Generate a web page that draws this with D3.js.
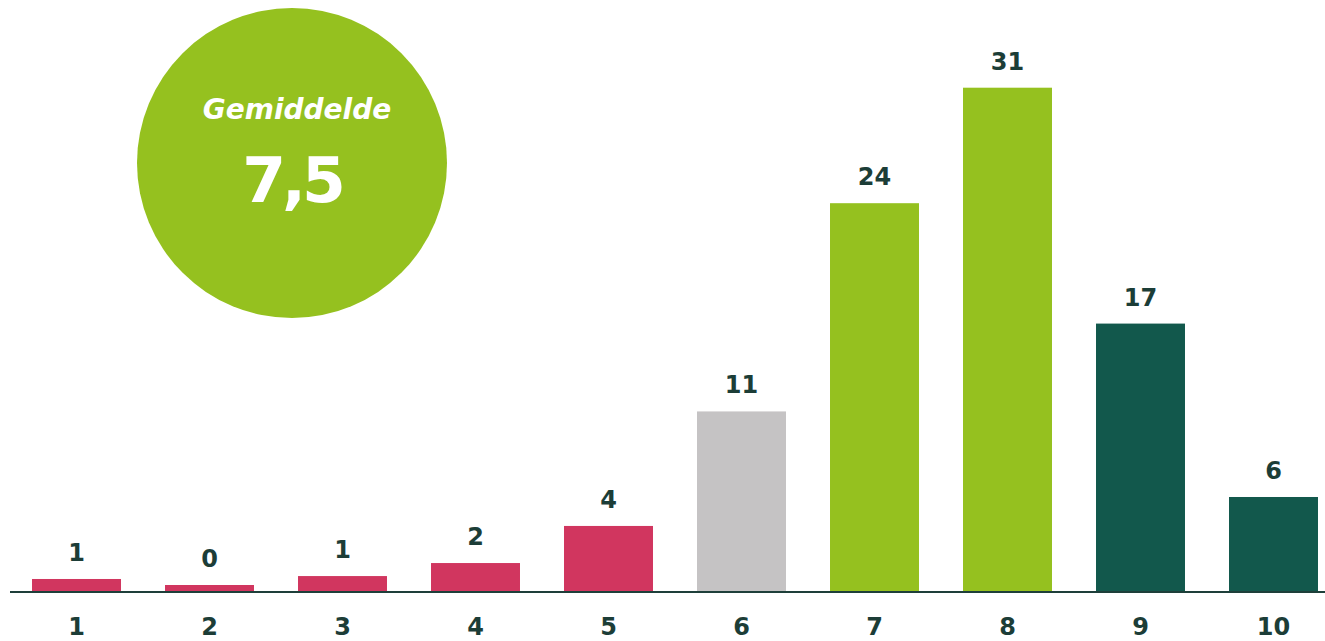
<!DOCTYPE html>
<html>
<head>
<meta charset="utf-8">
<script src="https://cdn.jsdelivr.net/npm/d3@7"></script>
<style>
  html, body { margin: 0; padding: 0; background: #ffffff; }
  svg { display: block; }
</style>
</head>
<body>
<svg id="chart" width="1325" height="641"></svg>
<script>
// Data
const categories = ["1", "2", "3", "4", "5", "6", "7", "8", "9", "10"];
const values = [0.8, 0.43, 0.98, 1.78, 4.06, 11.1, 23.9, 31.0, 16.5, 5.84];
const valueLabels = ["1", "0", "1", "2", "4", "11", "24", "31", "17", "6"];
const barColors = ["#d1365f", "#d1365f", "#d1365f", "#d1365f", "#d1365f",
                   "#c5c3c4", "#95c11f", "#95c11f", "#12584c", "#12584c"];
const averageTitle = "Gemiddelde";
const averageValue = "7,5";

const svg = d3.select("#chart");
const textColor = "#1c3d37";
const font = "'DejaVu Sans', sans-serif";

const baseY = 592;
const x = d3.scaleBand()
  .domain(categories)
  .range([10, 1340])
  .paddingInner(0.331)
  .paddingOuter(0.1655);

const y = d3.scaleLinear()
  .domain([0, 31])
  .range([baseY, 87.7]);

// Bars
svg.append("g")
  .selectAll("rect")
  .data(values)
  .join("rect")
  .attr("x", (d, i) => x(categories[i]))
  .attr("y", d => y(d))
  .attr("width", x.bandwidth())
  .attr("height", d => baseY - y(d))
  .attr("fill", (d, i) => barColors[i]);

// Value labels
svg.append("g")
  .selectAll("text")
  .data(values)
  .join("text")
  .attr("x", (d, i) => x(categories[i]) + x.bandwidth() / 2)
  .attr("y", d => y(d) - 18)
  .attr("text-anchor", "middle")
  .attr("font-family", font)
  .attr("font-weight", 700)
  .attr("font-size", 24)
  .attr("fill", textColor)
  .text((d, i) => valueLabels[i]);

// X axis
const axis = svg.append("g")
  .attr("transform", `translate(0,${baseY})`)
  .call(d3.axisBottom(x).tickSize(0));
axis.select(".domain")
  .attr("d", "M10,0H1325")
  .attr("stroke", "#1e3f3a")
  .attr("stroke-width", 2.2);
axis.selectAll(".tick text")
  .attr("font-family", font)
  .attr("font-weight", 700)
  .attr("font-size", 24)
  .attr("fill", textColor)
  .attr("dy", null)
  .attr("y", 43);

// Average circle
const circle = svg.append("g");
circle.append("circle")
  .attr("cx", 292)
  .attr("cy", 163)
  .attr("r", 155)
  .attr("fill", "#95c11f");
circle.append("text")
  .attr("x", 297)
  .attr("y", 119)
  .attr("text-anchor", "middle")
  .attr("font-family", font)
  .attr("font-weight", 700)
  .attr("font-style", "italic")
  .attr("font-size", 28)
  .attr("fill", "#ffffff")
  .text(averageTitle);
circle.append("text")
  .attr("x", 292)
  .attr("y", 202)
  .attr("text-anchor", "middle")
  .attr("font-family", font)
  .attr("font-weight", 700)
  .attr("font-size", 63)
  .attr("letter-spacing", -4)
  .attr("fill", "#ffffff")
  .text(averageValue);
</script>
</body>
</html>
